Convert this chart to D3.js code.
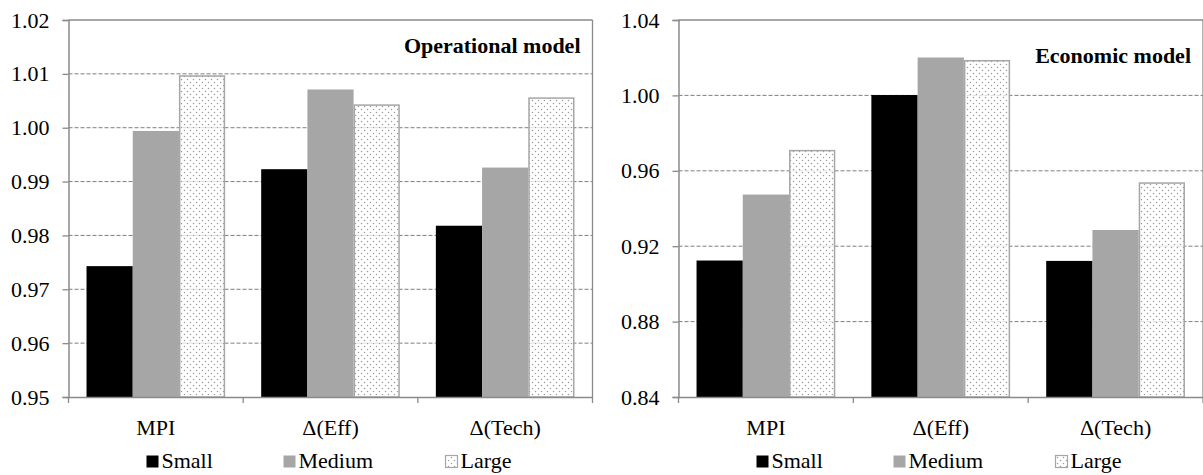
<!DOCTYPE html>
<html>
<head>
<meta charset="utf-8">
<script src="https://cdn.jsdelivr.net/npm/d3@7"></script>
<style>
  html, body { margin: 0; padding: 0; background: #fff; }
  svg { display: block; }
  text { font-family: "Liberation Serif", "Times New Roman", serif; fill: #000; }
</style>
</head>
<body>
<svg id="chart" width="1203" height="475"></svg>
<script>
// ---- data ----
const categories = ["MPI", "\u0394(Eff)", "\u0394(Tech)"];
const seriesNames = ["Small", "Medium", "Large"];

const opSmall  = [0.9743, 0.9923, 0.9818];
const opMedium = [0.9994, 1.0071, 0.9926];
const opLarge  = [1.0096, 1.0042, 1.0055];
const opTicks  = [0.95, 0.96, 0.97, 0.98, 0.99, 1.00, 1.01, 1.02];

const ecSmall  = [0.9124, 1.0002, 0.9122];
const ecMedium = [0.9474, 1.0201, 0.9286];
const ecLarge  = [0.9707, 1.0184, 0.9535];
const ecTicks  = [0.84, 0.88, 0.92, 0.96, 1.00, 1.04];

const opTitle = "Operational model";
const ecTitle = "Economic model";

// ---- drawing ----
const svg = d3.select("#chart");
const defs = svg.append("defs");
const pat = defs.append("pattern")
  .attr("id", "dots").attr("patternUnits", "userSpaceOnUse")
  .attr("width", 6).attr("height", 6);
pat.append("rect").attr("width", 6).attr("height", 6).attr("fill", "#fff").attr("fill-opacity", 0.75);
pat.append("circle").attr("cx", 1.5).attr("cy", 1.5).attr("r", 0.75).attr("fill", "#9a9a9a");
pat.append("circle").attr("cx", 4.5).attr("cy", 4.5).attr("r", 0.75).attr("fill", "#9a9a9a");

const fills = ["#000000", "#a6a6a6", "url(#dots)"];
const strokes = ["none", "none", "#a6a6a6"];
const axisColor = "#8a8a8a";
const FONT = 22;

function panel(x0, x1, domain, ticks, data, title, titleBaseline) {
  const top = 20, bottom = 397;
  const g = svg.append("g");
  const x = d3.scaleBand().domain(categories).range([x0, x1]).paddingInner(0).paddingOuter(0);
  const xs = d3.scaleBand().domain(seriesNames).range([0, x.bandwidth()]).paddingInner(0).paddingOuter(0.39);
  const y = d3.scaleLinear().domain(domain).range([bottom, top]);

  // gridlines
  g.append("g").selectAll("line").data(ticks.slice(1, -1)).join("line")
    .attr("x1", x0).attr("x2", x1)
    .attr("y1", d => y(d)).attr("y2", d => y(d))
    .attr("stroke", "#7f7f7f").attr("stroke-width", 1).attr("stroke-dasharray", "4,2");

  // border top/right
  g.append("line").attr("x1", x0).attr("x2", x1).attr("y1", y(domain[1])).attr("y2", y(domain[1]))
    .attr("stroke", axisColor).attr("stroke-width", 1.3);
  g.append("line").attr("x1", x1).attr("x2", x1).attr("y1", top).attr("y2", bottom)
    .attr("stroke", axisColor).attr("stroke-width", 1.3);

  // bars
  const rows = [];
  categories.forEach((c, i) => {
    seriesNames.forEach((s, j) => rows.push({ c, s, j, v: data[j][i] }));
  });
  g.append("g").selectAll("rect").data(rows).join("rect")
    .attr("x", d => x(d.c) + xs(d.s) + (d.j === 2 ? 0.75 : 0))
    .attr("width", d => xs.bandwidth() - (d.j === 2 ? 1.5 : 0))
    .attr("y", d => y(d.v))
    .attr("height", d => bottom - y(d.v))
    .attr("fill", d => fills[d.j])
    .attr("stroke", d => strokes[d.j])
    .attr("stroke-width", 1.5);

  // y axis
  const yAxis = d3.axisLeft(y).tickValues(ticks).tickFormat(d3.format(".2f")).tickSize(6).tickPadding(13);
  const ya = g.append("g").attr("transform", `translate(${x0},0)`).call(yAxis);
  ya.select(".domain").attr("stroke", axisColor).attr("stroke-width", 1.5);
  ya.selectAll(".tick line").attr("stroke", axisColor).attr("stroke-width", 1.3);
  ya.selectAll(".tick text").style("font-size", FONT + "px")
    .style("font-family", '"Liberation Serif", "Times New Roman", serif').attr("fill", "#000");

  // x axis
  const xa = g.append("g").attr("transform", `translate(0,${bottom})`)
    .call(d3.axisBottom(x).tickSize(0).tickPadding(22));
  xa.select(".domain").attr("stroke", axisColor).attr("stroke-width", 1.5);
  xa.selectAll(".tick text").style("font-size", FONT + "px")
    .style("font-family", '"Liberation Serif", "Times New Roman", serif').attr("fill", "#000");
  // boundary ticks
  const bounds = categories.map(c => x(c)).concat([x1]);
  g.append("g").selectAll("line").data(bounds).join("line")
    .attr("x1", d => d).attr("x2", d => d).attr("y1", bottom).attr("y2", bottom + 6)
    .attr("stroke", axisColor).attr("stroke-width", 1.3);

  // title
  g.append("text").attr("x", x1 - 12).attr("y", titleBaseline)
    .attr("text-anchor", "end").style("font-size", FONT + "px").style("font-weight", "bold")
    .text(title);

  // legend
  const offs = [78, 215, 377];
  const lg = g.append("g");
  seriesNames.forEach((s, j) => {
    const lx = x0 + offs[j];
    lg.append("rect").attr("x", lx).attr("y", 455.5).attr("width", 12).attr("height", 12)
      .attr("fill", fills[j]).attr("stroke", strokes[j]).attr("stroke-width", 1.2);
    lg.append("text").attr("x", lx + 15).attr("y", 468).style("font-size", FONT + "px").text(s);
  });
}

panel(68.5, 592.5, [0.95, 1.02], opTicks, [opSmall, opMedium, opLarge], opTitle, 53);
panel(678.5, 1203, [0.84, 1.04], ecTicks, [ecSmall, ecMedium, ecLarge], ecTitle, 62.5);
</script>
</body>
</html>
